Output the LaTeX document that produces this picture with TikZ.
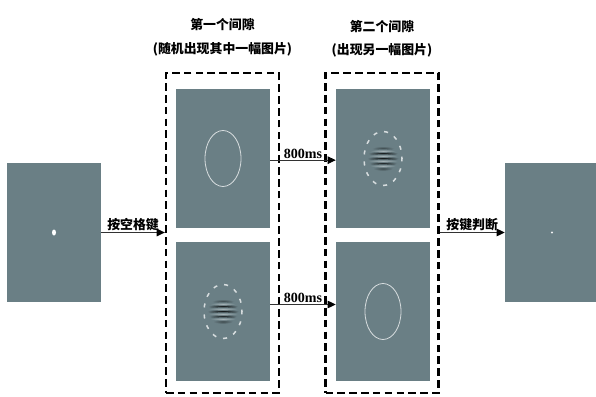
\documentclass[tikz,border=0pt]{standalone}
\usepackage{fontspec}
\setmainfont{Liberation Serif}
\newfontfamily\cjk{Noto Sans CJK SC}
\usetikzlibrary{arrows.meta,positioning}
\definecolor{scrgray}{RGB}{106,127,133}
\definecolor{ringgray}{RGB}{214,220,222}
\definecolor{arrgray}{RGB}{50,50,50}
\tikzset{
  scr/.style={fill=scrgray, inner sep=0pt, minimum width=2.82cm, minimum height=4.17cm},
  gapbox/.style={draw=black, line width=2pt, dash pattern=on 6.5pt off 3.6pt,
                 inner sep=0pt, minimum width=3.39cm, minimum height=9.6cm},
  flow/.style={-{Triangle[length=7pt,width=6.5pt,fill=black,color=black]}, arrgray, line width=0.8pt},
  lab/.style={font=\cjk\bfseries\fontsize{11}{12}\selectfont, text=black, inner sep=1pt},
  tlab/.style={font=\bfseries\fontsize{12}{14}\selectfont, text=black, inner sep=1pt},
  ttl/.style={font=\cjk\bfseries\fontsize{11}{20}\selectfont, align=center},
  ring/.style={ringgray, line width=0.7pt},
}
% dashed ring round a grating patch
\newcommand{\dashring}[1]{%
  \draw[ring, line width=1.3pt, dash pattern=on 3.5pt off 6pt, dash phase=1pt] (#1) ellipse [x radius=19, y radius=27];}
% horizontal dark and light bands of the grating
\newcommand{\grating}[1]{%
  \foreach \dy/\rx/\shd in {-10/10/40, 10/11/45, -5/14/85, 5/15/95, 0/16/100}
    \shade[inner color=black!\shd!scrgray, outer color=scrgray]
      ([yshift=\dy*0.03cm]#1) ellipse [x radius=\rx, y radius=2.4];
  \foreach \dy/\rx in {-7.5/13, -2.5/15, 2.5/15, 7.5/13}
    \shade[inner color=white!40!scrgray, outer color=scrgray]
      ([yshift=\dy*0.03cm]#1) ellipse [x radius=\rx, y radius=1.6];
  \dashring{#1}}

\begin{document}
\begin{tikzpicture}[x=0.03cm, y=-0.03cm]
  \useasboundingbox (0,0) rectangle (596,396);

  % start and end screens
  \node[scr] (start) at (54,232.5) {};
  \fill[white] (54,232.5) ellipse [x radius=2, y radius=3];
  \node[scr] (resp) at (552,232.5) {};
  \fill[white!90!scrgray] (552,232.5) circle [radius=1.2];

  % the two gaps
  \node[gapbox] (gapA) at (222.5,233) {};
  \node[gapbox] (gapB) at (382,233) {};
  \node[ttl, above=10pt of gapA] (ttlA) {第一个间隙\\(随机出现其中一幅图片)};
  \node[ttl, above=9pt of gapB] (ttlB) {第二个间隙\\(出现另一幅图片)};

  \node[scr] (a1) at (223,158.5) {};
  \node[scr] (a2) at (223,311.5) {};
  \node[scr] (b1) at (383,158.5) {};
  \node[scr] (b2) at (383,311.5) {};

  \draw[ring] (a1) ellipse [x radius=18, y radius=28];
  \draw[ring] (b2) ellipse [x radius=18, y radius=28];
  \grating{a2}
  \grating{b1}

  % arrows
  \draw[flow] (start.east) -- (start.east -| gapA.west)
    node[lab, midway, above] {按空格键};
  \draw[flow] ([yshift=-0.05cm]a1.east) -- ([yshift=-0.05cm]b1.west)
    node[tlab, midway, above] {800ms};
  \draw[flow] ([yshift=0.21cm]a2.east) -- ([yshift=0.21cm]b2.west)
    node[tlab, midway, above] {800ms};
  \draw[flow] (resp.west -| gapB.east) -- (resp.west)
    node[lab, midway, above] {按键判断};
\end{tikzpicture}
\end{document}
